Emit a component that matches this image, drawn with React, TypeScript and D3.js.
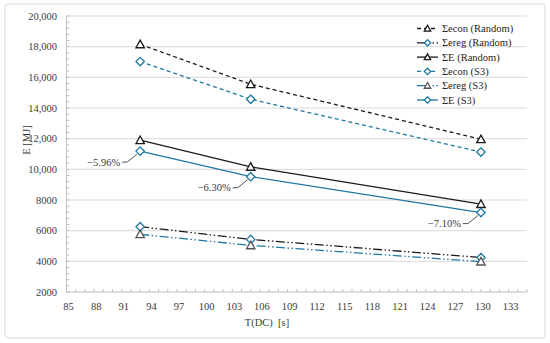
import * as d3 from 'd3';

// T(DC) [s]
const tdc = [93, 105, 130];

// energy values [MJ]
const econRandom = [18150, 15550, 11960];
const eregRandom = [6260, 5430, 4250];
const eRandom = [11900, 10160, 7730];
const econS3 = [17030, 14570, 11130];
const eregS3 = [5760, 5040, 3980];
const eS3 = [11190, 9520, 7180];

const yTicks = [2000, 4000, 6000, 8000, 10000, 12000, 14000, 16000, 18000, 20000];
const xTicks = [85, 88, 91, 94, 97, 100, 103, 106, 109, 112, 115, 118, 121, 124, 127, 130, 133];

const savings = ['\u22125.96%', '\u22126.30%', '\u22127.10%'];

const BLACK = '#1a1a1a';
const BLUE = '#1f78a2';

const series = [
  { name: '\u03A3econ (Random)', values: econRandom, color: BLACK, dash: '4,3', marker: 'tri', markerColor: BLACK },
  { name: '\u03A3ereg (Random)', values: eregRandom, color: BLACK, dash: '9,2.5,1.5,2.5,1.5,2.5', marker: 'dia', markerColor: BLUE },
  { name: '\u03A3E (Random)', values: eRandom, color: BLACK, dash: null, marker: 'tri', markerColor: BLACK },
  { name: '\u03A3econ (S3)', values: econS3, color: BLUE, dash: '4,3', marker: 'dia', markerColor: BLUE },
  { name: '\u03A3ereg (S3)', values: eregS3, color: BLUE, dash: '9,2.5,1.5,2.5,1.5,2.5', marker: 'tri', markerColor: '#555' },
  { name: '\u03A3E (S3)', values: eS3, color: BLUE, dash: null, marker: 'dia', markerColor: BLUE },
];

const txt = { fontFamily: "'Liberation Serif', 'Times New Roman', serif", fontSize: '10.5px' };

function Marker({ type, x, y, color, s = 4.2 }: any) {
  if (type === 'tri') {
    return (
      <path
        d={`M${x},${y - s}L${x + s},${y + s * 0.8}L${x - s},${y + s * 0.8}Z`}
        fill="#fff"
        stroke={color}
        strokeWidth={1.3}
      />
    );
  }
  return (
    <path
      d={`M${x},${y - s}L${x + s},${y}L${x},${y + s}L${x - s},${y}Z`}
      fill="#fff"
      stroke={color}
      strokeWidth={1.3}
    />
  );
}

export default function App() {
  const width = 550;
  const height = 343;
  const left = 66.5;
  const right = 527;
  const top = 16;
  const bottom = 292;

  const x = d3.scaleLinear().domain([85, 135]).range([left, right]);
  const y = d3.scaleLinear().domain([2000, 20000]).range([bottom, top]);

  const line = d3.line<number>()
    .x((_, i) => x(tdc[i]))
    .y(d => y(d));

  const yMinor = d3.range(2000, 20001, 400);
  const xMinor = d3.range(85, 136, 1);

  return (
    <svg width={width} height={height} style={{ position: 'absolute', left: 0, top: 0 }}>
      <rect x={5} y={4} width={540} height={334} rx={3} fill="#fff" stroke="#d9d9d9" />

      {/* Grid */}
      {yTicks.slice(1).map(t => (
        <line key={t} x1={left} x2={right} y1={y(t)} y2={y(t)} stroke="#d9d9d9" strokeWidth={1} />
      ))}

      {/* Axes */}
      <line x1={left} x2={left} y1={top} y2={bottom} stroke="#bfbfbf" />
      <line x1={left} x2={right} y1={bottom} y2={bottom} stroke="#bfbfbf" />
      {yMinor.map(t => (
        <line key={t} x1={left} x2={left + 3} y1={y(t)} y2={y(t)} stroke="#bfbfbf" />
      ))}
      {xMinor.map(t => (
        <line key={t} x1={x(t)} x2={x(t)} y1={bottom} y2={bottom - 3} stroke="#bfbfbf" />
      ))}

      {yTicks.map(t => (
        <text key={t} x={57} y={y(t) + 3.5} textAnchor="end" style={txt} fill="#3a3a3a">
          {t >= 10000 ? d3.format(',')(t) : String(t)}
        </text>
      ))}
      {xTicks.map(t => (
        <text key={t} x={x(t) + 2} y={310} textAnchor="middle" style={txt} fill="#3a3a3a">
          {t}
        </text>
      ))}

      <text x={267} y={326} textAnchor="middle" style={{ ...txt, whiteSpace: 'pre' }} fill="#3a3a3a">
        T(DC)  [s]
      </text>
      <text transform={`translate(30,140) rotate(-90)`} textAnchor="middle" style={txt} fill="#3a3a3a">
        E [MJ]
      </text>

      {/* Lines */}
      {series.map(s => (
        <path
          key={s.name}
          d={line(s.values) || ''}
          fill="none"
          stroke={s.color}
          strokeWidth={1.3}
          strokeDasharray={s.dash || undefined}
        />
      ))}
      {series.map(s =>
        s.values.map((v, i) => (
          <Marker key={s.name + i} type={s.marker} x={x(tdc[i])} y={y(v)} color={s.markerColor} />
        ))
      )}

      {/* Savings annotations */}
      {savings.map((lab, i) => {
        const px = x(tdc[i]);
        const py = y(eS3[i]);
        const ty = py + 11;
        return (
          <g key={lab}>
            <polyline
              points={`${px - 18},${ty} ${px - 13},${ty} ${px - 3},${py + 3}`}
              fill="none"
              stroke="#404040"
              strokeWidth={0.9}
            />
            <text x={px - 20} y={ty + 3.5} textAnchor="end" style={txt} fill="#3a3a3a">
              {lab}
            </text>
          </g>
        );
      })}

      {/* Legend */}
      {series.map((s, i) => {
        const ly = 28.5 + i * 14.3;
        return (
          <g key={s.name}>
            <line
              x1={417}
              x2={438}
              y1={ly}
              y2={ly}
              stroke={s.color}
              strokeWidth={1.3}
              strokeDasharray={s.dash || undefined}
            />
            <Marker type={s.marker} x={427.5} y={ly} color={s.markerColor} s={3.2} />
            <text x={442} y={ly + 3.5} style={txt} fill="#262626">
              {s.name}
            </text>
          </g>
        );
      })}
    </svg>
  );
}
